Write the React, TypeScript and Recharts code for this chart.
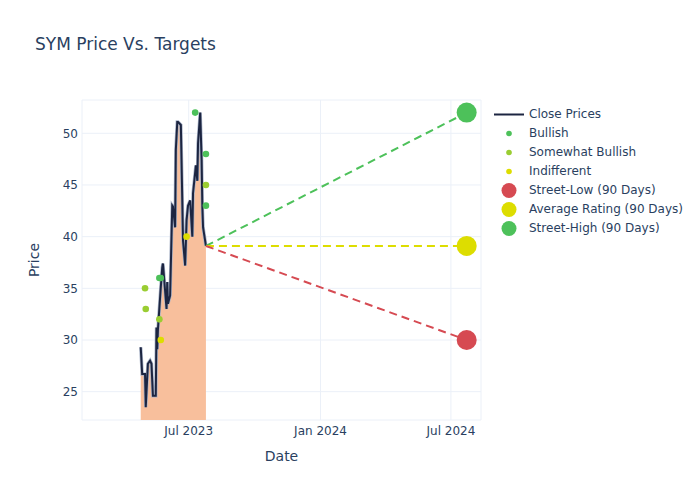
import React from "react";
import {
  ComposedChart,
  Area,
  Line,
  Scatter,
  XAxis,
  YAxis,
  CartesianGrid,
  Label,
} from "recharts";

// close prices
const closeDates = [
  "2023-04-25", "2023-04-27", "2023-05-01", "2023-05-02", "2023-05-05",
  "2023-05-08", "2023-05-10", "2023-05-12", "2023-05-16", "2023-05-17",
  "2023-05-18", "2023-05-19", "2023-05-23", "2023-05-25", "2023-05-26",
  "2023-05-31", "2023-06-01", "2023-06-02", "2023-06-05", "2023-06-08",
  "2023-06-09", "2023-06-12", "2023-06-13", "2023-06-15", "2023-06-16",
  "2023-06-20", "2023-06-22", "2023-06-23", "2023-06-26", "2023-06-28",
  "2023-06-30", "2023-07-03", "2023-07-06", "2023-07-07", "2023-07-11",
  "2023-07-13", "2023-07-14", "2023-07-17", "2023-07-19", "2023-07-20",
  "2023-07-21", "2023-07-25",
];
const closePrices = [
  29.3, 26.7, 26.7, 23.5, 27.7,
  28.0, 27.7, 24.6, 24.6, 31.2,
  29.1, 31.0, 35.1, 37.0, 37.4,
  33.0, 35.6, 33.5, 34.3, 43.0,
  42.9, 40.9, 48.4, 51.1, 51.1,
  50.8, 43.5, 39.6, 37.2, 41.6,
  43.0, 43.5, 40.0, 44.2, 46.9,
  45.4, 49.0, 52.0, 47.4, 42.9,
  40.9, 39.1,
];

// analyst ratings
const bullishDates = ["2023-05-21", "2023-05-23", "2023-07-10", "2023-07-25", "2023-07-25"];
const bullishTargets = [36, 36, 52, 48, 43];
const somewhatBullishDates = ["2023-05-01", "2023-05-02", "2023-05-21", "2023-07-25"];
const somewhatBullishTargets = [35, 33, 32, 45];
const indifferentDates = ["2023-05-23", "2023-06-28"];
const indifferentTargets = [30, 40];

// 90 day street targets
const targetDate = "2024-07-23";
const streetLow = 30;
const averageRating = 39.1;
const streetHigh = 52;

const xTicks = ["2023-07-01", "2024-01-01", "2024-07-01"];
const yTicks = [25, 30, 35, 40, 45, 50];

const MONTHS = ["Jan", "Feb", "Mar", "Apr", "May", "Jun", "Jul", "Aug", "Sep", "Oct", "Nov", "Dec"];
const ts = (d: string) => Date.parse(d + "T00:00:00Z");
const fmtTick = (t: number) => {
  const d = new Date(t);
  return `${MONTHS[d.getUTCMonth()]} ${d.getUTCFullYear()}`;
};

const FONT = "'DejaVu Sans', sans-serif";
const TEXT = "#2a3f5f";
const NAVY = "#1c2541";
const GREEN = "#4dc15a";
const LIGHT_GREEN = "#9acd32";
const YELLOW = "#dddd00";
const RED = "#d64a52";

const closeData = closeDates.map((d, i) => ({ t: ts(d), price: closePrices[i] }));
const toPoints = (dates: string[], vals: number[]) =>
  dates.map((d, i) => ({ t: ts(d), price: vals[i] }));

const lastClose = closeData[closeData.length - 1];
const lowLine = [lastClose, { t: ts(targetDate), price: streetLow }];
const avgLine = [lastClose, { t: ts(targetDate), price: averageRating }];
const highLine = [lastClose, { t: ts(targetDate), price: streetHigh }];

const dot = (r: number, fill: string) => (props: any) =>
  <circle cx={props.cx} cy={props.cy} r={r} fill={fill} />;

const legendItems = [
  { name: "Close Prices", kind: "line", color: NAVY },
  { name: "Bullish", kind: "small", color: GREEN },
  { name: "Somewhat Bullish", kind: "small", color: LIGHT_GREEN },
  { name: "Indifferent", kind: "small", color: YELLOW },
  { name: "Street-Low (90 Days)", kind: "big", color: RED },
  { name: "Average Rating (90 Days)", kind: "big", color: YELLOW },
  { name: "Street-High (90 Days)", kind: "big", color: GREEN },
];

export default function App() {
  return (
    <div
      style={{
        position: "absolute",
        left: 0,
        top: 0,
        width: 700,
        height: 500,
        background: "#fff",
        fontFamily: FONT,
      }}
    >
      <div
        style={{
          position: "absolute",
          left: 35,
          top: 34,
          fontSize: 17,
          lineHeight: "20px",
          color: TEXT,
        }}
      >
        SYM Price Vs. Targets
      </div>

      <ComposedChart
        width={700}
        height={500}
        data={closeData}
        margin={{ top: 100, right: 219, bottom: 50, left: 0 }}
      >
        <CartesianGrid stroke="#ebf0f8" strokeWidth={1} />
        <XAxis
          dataKey="t"
          type="number"
          scale="linear"
          domain={[ts("2023-02-02"), ts("2024-08-12")]}
          allowDataOverflow
          ticks={xTicks.map(ts)}
          tickFormatter={fmtTick}
          tick={{ fill: TEXT, fontSize: 12, fontFamily: FONT }}
          tickLine={false}
          axisLine={false}
          tickSize={0}
          tickMargin={6}
          height={30}
        >
          <Label
            value="Date"
            position="bottom"
            offset={1}
            style={{ fill: TEXT, fontSize: 14, fontFamily: FONT }}
          />
        </XAxis>
        <YAxis
          dataKey="price"
          type="number"
          domain={[22.26, 53.22]}
          allowDataOverflow
          ticks={yTicks}
          tick={{ fill: TEXT, fontSize: 12, fontFamily: FONT }}
          tickLine={false}
          axisLine={false}
          tickSize={0}
          tickMargin={4}
          width={82}
        >
          <Label
            content={() => (
              <text
                x={34}
                y={260}
                transform="rotate(-90 34 260)"
                textAnchor="middle"
                dominantBaseline="central"
                fill={TEXT}
                fontSize={14}
                fontFamily={FONT}
              >
                Price
              </text>
            )}
          />
        </YAxis>

        <Area
          type="linear"
          dataKey="price"
          stroke="none"
          fill="#f8bf9c"
          fillOpacity={1}
          dot={false}
          activeDot={false}
          isAnimationActive={false}
        />
        {/* light halo under the close line */}
        <Line
          type="linear"
          dataKey="price"
          stroke="#a9b3c7"
          strokeWidth={3.4}
          dot={false}
          activeDot={false}
          isAnimationActive={false}
        />
        <Line
          type="linear"
          dataKey="price"
          stroke={NAVY}
          strokeWidth={2}
          dot={false}
          activeDot={false}
          isAnimationActive={false}
        />

        <Line data={highLine} dataKey="price" stroke={GREEN} strokeWidth={2}
          strokeDasharray="8 5" dot={false} activeDot={false} isAnimationActive={false} />
        <Line data={avgLine} dataKey="price" stroke={YELLOW} strokeWidth={2}
          strokeDasharray="8 5" dot={false} activeDot={false} isAnimationActive={false} />
        <Line data={lowLine} dataKey="price" stroke={RED} strokeWidth={2}
          strokeDasharray="8 5" dot={false} activeDot={false} isAnimationActive={false} />

        <Scatter data={toPoints(bullishDates, bullishTargets)} dataKey="price"
          shape={dot(3.3, GREEN)} isAnimationActive={false} />
        <Scatter data={toPoints(somewhatBullishDates, somewhatBullishTargets)} dataKey="price"
          shape={dot(3.3, LIGHT_GREEN)} isAnimationActive={false} />
        <Scatter data={toPoints(indifferentDates, indifferentTargets)} dataKey="price"
          shape={dot(3.3, YELLOW)} isAnimationActive={false} />

        <Scatter data={[lowLine[1]]} dataKey="price" shape={dot(10, RED)} isAnimationActive={false} />
        <Scatter data={[avgLine[1]]} dataKey="price" shape={dot(10, YELLOW)} isAnimationActive={false} />
        <Scatter data={[highLine[1]]} dataKey="price" shape={dot(10, GREEN)} isAnimationActive={false} />
      </ComposedChart>

      <div
        style={{
          position: "absolute",
          left: 494,
          top: 104.5,
          fontSize: 12,
          color: TEXT,
        }}
      >
        {legendItems.map((it) => (
          <div key={it.name} style={{ display: "flex", alignItems: "center", height: 19 }}>
            <svg width={30} height={19}>
              {it.kind === "line" ? (
                <line x1={0} x2={30} y1={9.5} y2={9.5} stroke={it.color} strokeWidth={2} />
              ) : (
                <circle cx={15} cy={9.5} r={it.kind === "big" ? 7.5 : 2.8} fill={it.color} />
              )}
            </svg>
            <span style={{ marginLeft: 5, whiteSpace: "nowrap" }}>{it.name}</span>
          </div>
        ))}
      </div>
    </div>
  );
}
